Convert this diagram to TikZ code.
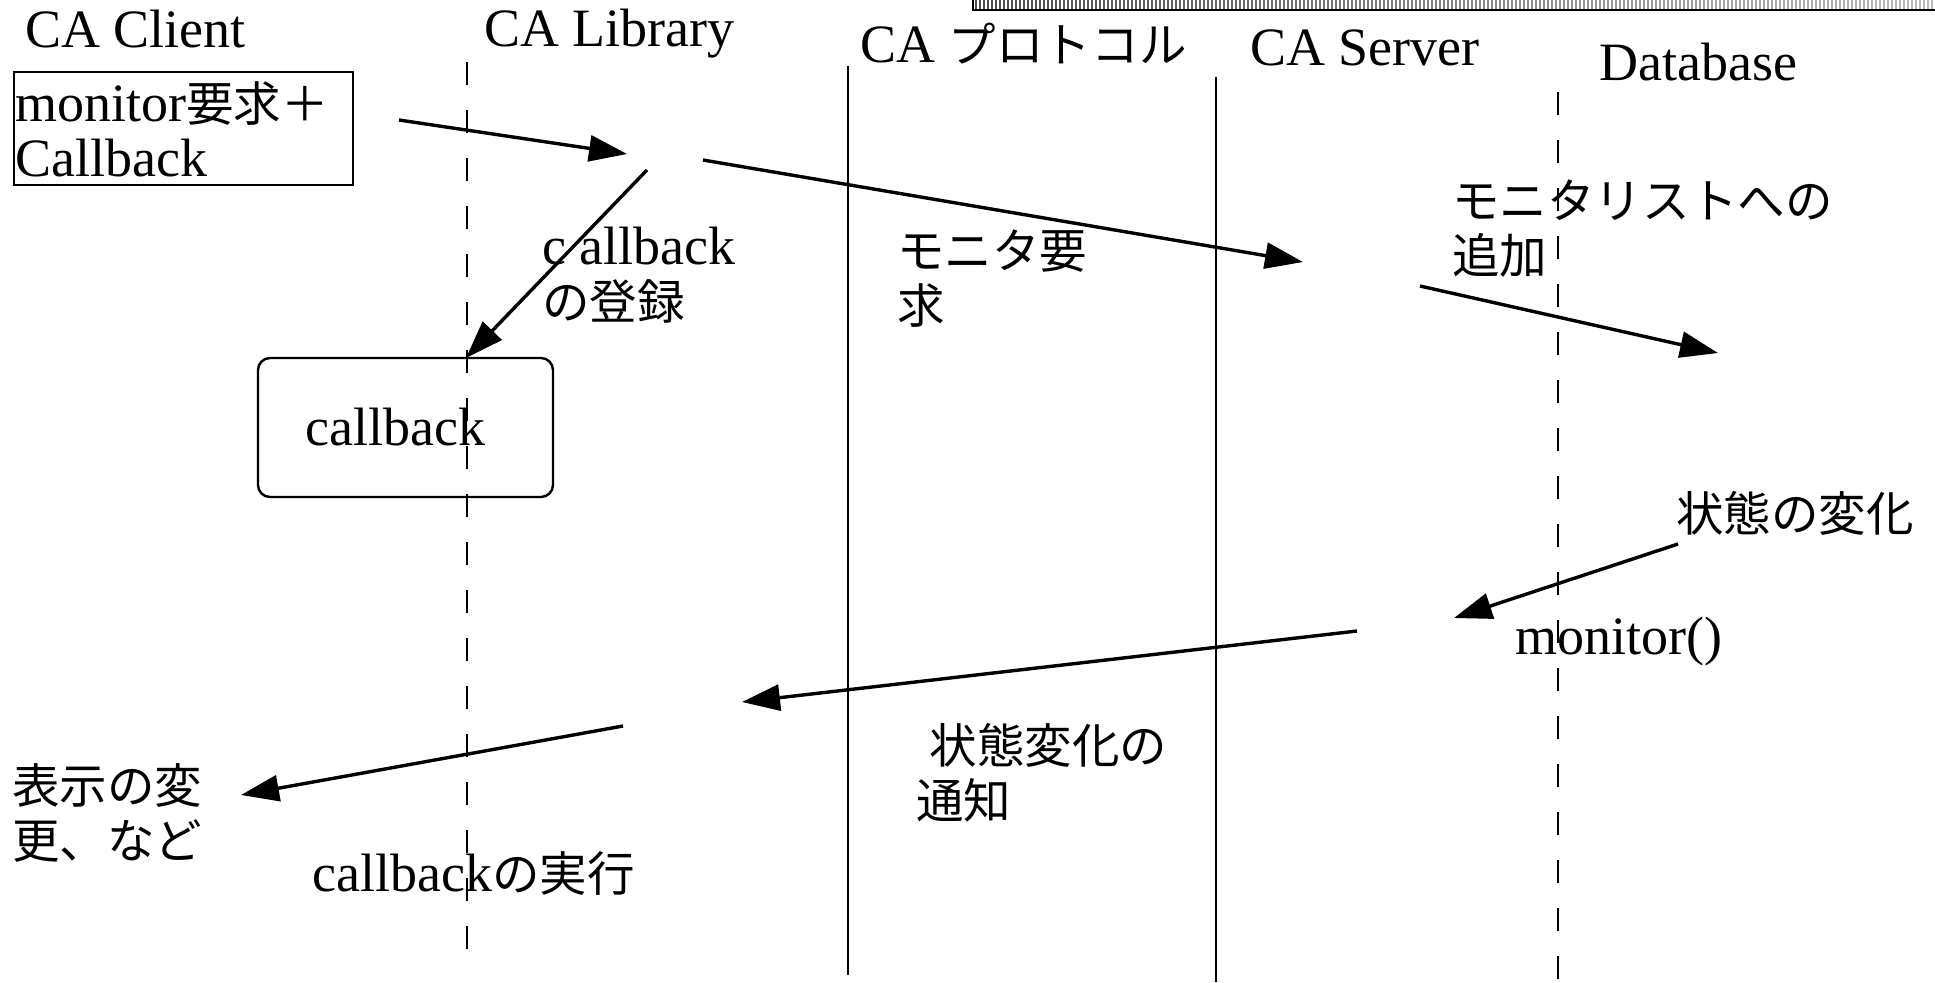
\documentclass[tikz,border=0pt]{standalone}
\usepackage{fontspec}
\setmainfont{Liberation Serif}
\newfontfamily\jp{Noto Sans CJK JP}[Scale=0.88]
\usetikzlibrary{arrows.meta}
\begin{document}
\begin{tikzpicture}[x=0.5pt,y=-0.5pt,
  font=\fontsize{27pt}{27.5pt}\selectfont,
  lbl/.style={inner sep=0pt, anchor=base west, align=left},
  msg/.style={line width=1.7pt, -{Triangle[length=19pt,width=13pt]}},
  life/.style={line width=1.2pt},
  lifed/.style={line width=1.1pt, dash pattern=on 11.5pt off 12.5pt}]
\useasboundingbox (0,0) rectangle (1935,982);

% top hatched bar
\foreach \i [evaluate=\i as \xx using 976+4*\i, evaluate=\i as \g using 70-0.18*\i] in {0,...,239}
  {\draw[line width=0.7pt, black!\g] (\xx,0) -- (\xx,10);}
\draw[line width=0.7pt] (973,0) -- (973,10) -- (1935,10);

% headers
\node[lbl] (hClient) at (25,47) {CA Client};
\node[lbl] (hLib) at (484,46) {CA Library};
\node[lbl] (hProto) at (860,62) {CA {\jp プロトコル}};
\node[lbl] (hServer) at (1250,65) {CA Server};
\node[lbl] (hDb) at (1599,80) {Database};

% lifelines
\coordinate (libT) at (467,62);   \coordinate (libB) at (467,950);
\coordinate (proT) at (848,66);   \coordinate (proB) at (848,975);
\coordinate (srvT) at (1216,77);  \coordinate (srvB) at (1216,982);
\coordinate (dbT) at (1558,92);   \coordinate (dbB) at (1558,982);
\draw[lifed] (libT) -- (libB);
\draw[life] (proT) -- (proB);
\draw[life] (srvT) -- (srvB);
\draw[lifed] (dbT) -- (dbB);

% request box
\node[draw, line width=0.6pt, inner sep=0pt, minimum width=169.5pt, minimum height=56.5pt] (req) at (183.5,128.5) {};
\node[lbl] (reqT) at (15,176) {monitor{\jp 要求＋}\\Callback};

% callback box
\node[draw, line width=1.2pt, rounded corners=6pt, minimum width=147.5pt, minimum height=69.5pt] (cb) at (405.5,427.5) {callback\hspace*{10pt}};

% message endpoints
\coordinate (m1s) at (399,120);  \coordinate (m1e) at (627,154);
\coordinate (m2s) at (647,170);  \coordinate (m2e) at (466,358);
\coordinate (m3s) at (703,160);  \coordinate (m3e) at (1303,262);
\coordinate (m4s) at (1420,286); \coordinate (m4e) at (1718,353);
\coordinate (m5s) at (1678,544); \coordinate (m5e) at (1454,618);
\coordinate (m6s) at (1357,631); \coordinate (m6e) at (742,702);
\coordinate (m7s) at (623,726);  \coordinate (m7e) at (241,795);
\draw[msg] (m1s) -- (m1e);
\draw[msg] (m2s) -- (m2e);
\draw[msg] (m3s) -- (m3e);
\draw[msg] (m4s) -- (m4e);
\draw[msg] (m5s) -- (m5e);
\draw[msg] (m6s) -- (m6e);
\draw[msg] (m7s) -- (m7e);

% labels (anchor at baseline of last line)
\node[lbl] (lReg) at (542,319) {c allback\\{\jp の登録}};
\node[lbl] (lReq) at (897,323) {{\jp モニタ要}\\{\jp 求}};
\node[lbl] (lAdd) at (1452,273) {{\jp モニタリストへの}\\{\jp 追加}};
\node[lbl] (lChg) at (1676,531) {{\jp 状態の変化}};
\node[lbl] (lMon) at (1515,654) {monitor()};
\node[lbl] (lNot) at (916,818) {\ {\jp 状態変化の}\\{\jp 通知}};
\node[lbl] (lDisp) at (12,858) {{\jp 表示の変}\\{\jp 更、など}};
\node[lbl] (lExe) at (312,891) {callback{\jp の実行}};
\end{tikzpicture}
\end{document}
